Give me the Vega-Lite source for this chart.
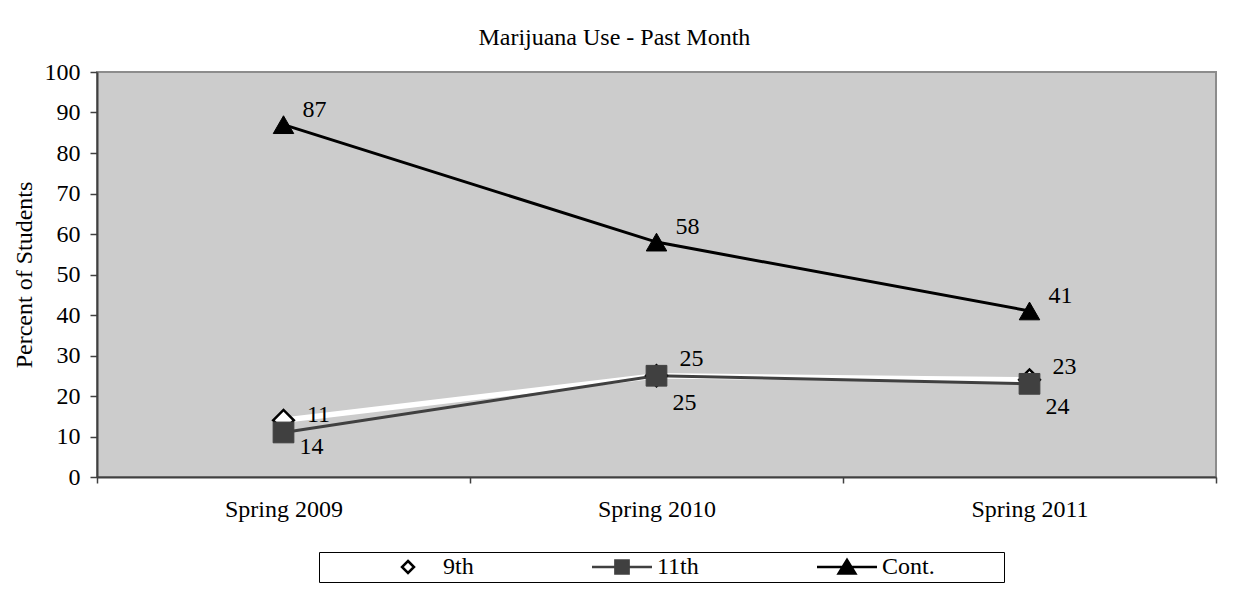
{
  "$schema": "https://vega.github.io/schema/vega-lite/v6.json",
  "autosize": "none",
  "width": 1119,
  "height": 405,
  "padding": {"left": 97, "top": 72, "right": 19, "bottom": 113},
  "background": "#ffffff",
  "config": {
    "font": "Liberation Serif",
    "view": {"fill": "#cccccc", "stroke": "#8c8c8c", "strokeWidth": 2},
    "axis": {"labelFont": "Liberation Serif", "titleFont": "Liberation Serif", "labelColor": "#000000", "titleColor": "#000000", "titleFontWeight": "normal"}
  },
  "title": {"text": "Marijuana Use - Past Month", "font": "Liberation Serif", "fontSize": 24, "fontWeight": "normal", "color": "#000000", "anchor": "middle", "frame": "bounds", "offset": 10},
  "data": {"values": [
    {"period": "Spring 2009", "series": "9th", "value": 14},
    {"period": "Spring 2010", "series": "9th", "value": 25},
    {"period": "Spring 2011", "series": "9th", "value": 24},
    {"period": "Spring 2009", "series": "11th", "value": 11},
    {"period": "Spring 2010", "series": "11th", "value": 25},
    {"period": "Spring 2011", "series": "11th", "value": 23},
    {"period": "Spring 2009", "series": "Cont.", "value": 87},
    {"period": "Spring 2010", "series": "Cont.", "value": 58},
    {"period": "Spring 2011", "series": "Cont.", "value": 41}
  ]},
  "encoding": {
    "x": {"field": "period", "type": "nominal", "sort": null,
      "scale": {"type": "band", "paddingInner": 0, "paddingOuter": 0},
      "axis": {"title": null, "labelAngle": 0, "tickBand": "extent", "tickSize": 6, "labelPadding": 14, "labelFontSize": 24, "domainColor": "#404040", "domainWidth": 2, "tickColor": "#404040", "tickWidth": 1.5, "grid": false}},
    "y": {"field": "value", "type": "quantitative",
      "scale": {"domain": [0, 100], "nice": false, "zero": true},
      "axis": {"title": "Percent of Students", "values": [0,10,20,30,40,50,60,70,80,90,100], "tickSize": 7, "labelPadding": 10, "labelFontSize": 24, "titleFontSize": 24, "titlePadding": 8, "domainColor": "#404040", "domainWidth": 2, "tickColor": "#404040", "tickWidth": 1.5, "grid": false}}
  },
  "layer": [
    {"transform": [{"filter": "datum.series === '9th'"}],
     "mark": {"type": "line", "color": "#ffffff", "strokeWidth": 5.5}},
    {"transform": [{"filter": "datum.series !== '9th'"}],
     "mark": {"type": "line", "strokeWidth": 3},
     "encoding": {"color": {"field": "series", "type": "nominal", "scale": {"domain": ["11th", "Cont."], "range": ["#404040", "#000000"]}, "legend": null}}},
    {"transform": [{"filter": "datum.series === '9th'"}],
     "mark": {"type": "point", "shape": "diamond", "filled": true, "fill": "#ffffff", "stroke": "#000000", "size": 430, "strokeWidth": 2.5, "opacity": 1}},
    {"transform": [{"filter": "datum.series === '11th'"}],
     "mark": {"type": "point", "shape": "square", "filled": true, "fill": "#404040", "stroke": "#404040", "size": 430, "strokeWidth": 1, "opacity": 1}},
    {"transform": [{"filter": "datum.series === 'Cont.'"}],
     "mark": {"type": "point", "shape": "triangle-up", "filled": true, "fill": "#000000", "stroke": "#000000", "size": 420, "strokeWidth": 1, "opacity": 1}},
    {"transform": [{"filter": "false"}],
     "mark": {"type": "point", "filled": true, "strokeWidth": 2.5, "opacity": 1},
     "encoding": {
       "shape": {"field": "series", "type": "nominal", "scale": {"domain": ["9th", "11th", "Cont."], "range": ["M0,-0.6L0.6,0L0,0.6L-0.6,0Z", "M-3,0H3M-0.66,-0.66H0.66V0.66H-0.66Z", "M-3,0H3M0,-0.72L0.84,0.66L-0.84,0.66Z"]},
         "legend": {"title": null, "orient": "none", "legendX": 222, "legendY": 480, "direction": "horizontal", "columns": 3,
           "padding": 3, "strokeColor": "#000000", "fillColor": "#ffffff",
           "symbolSize": 400, "symbolOffset": 74, "labelOffset": 23, "columnPadding": 62, "symbolStrokeWidth": 2.5,
           "labelFont": "Liberation Serif", "labelFontSize": 24, "labelColor": "#000000",
           "labelExpr": "datum.label === 'Cont.' ? 'Cont.\u2003\u2003\u2800' : datum.label"}},
       "fill": {"field": "series", "type": "nominal", "scale": {"domain": ["9th", "11th", "Cont."], "range": ["#ffffff", "#404040", "#000000"]}},
       "stroke": {"field": "series", "type": "nominal", "scale": {"domain": ["9th", "11th", "Cont."], "range": ["#000000", "#404040", "#000000"]}}
     }
    },
    {"transform": [{"filter": "datum.series === 'Cont.'"}],
     "mark": {"type": "text", "fontSize": 24, "font": "Liberation Serif", "color": "#000000", "align": "center", "baseline": "middle", "dx": 31, "dy": -15},
     "encoding": {"text": {"field": "value", "type": "quantitative"}}},
    {"transform": [{"filter": "datum.series === '11th'"}],
     "mark": {"type": "text", "fontSize": 24, "font": "Liberation Serif", "color": "#000000", "align": "center", "baseline": "middle", "dx": 35, "dy": -17},
     "encoding": {"text": {"field": "value", "type": "quantitative"}}},
    {"transform": [{"filter": "datum.series === '9th'"}],
     "mark": {"type": "text", "fontSize": 24, "font": "Liberation Serif", "color": "#000000", "align": "center", "baseline": "middle", "dx": 28, "dy": 27},
     "encoding": {"text": {"field": "value", "type": "quantitative"}}}
  ]
}
